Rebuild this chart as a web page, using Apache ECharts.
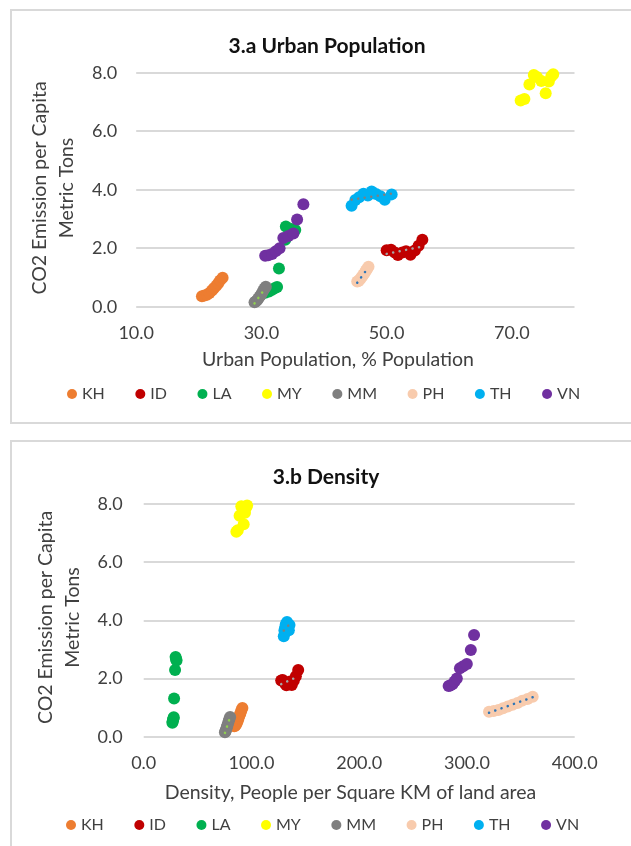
<!DOCTYPE html>
<html><head><meta charset="utf-8">
<script src="https://cdn.jsdelivr.net/npm/echarts@6/dist/echarts.min.js"></script>
<style>html,body{margin:0;padding:0;background:#fff}#c{width:631px;height:846px}</style>
</head><body><div id="c"></div>
<script>
const countries = ['KH','ID','LA','MY','MM','PH','TH','VN'];
const colors = ['#ED7D31','#C00000','#00B050','#FFFF00','#7F7F7F','#F8CBAD','#00B0F0','#7030A0'];

// CO2 emission per capita, metric tons
const co2KH = [0.36,0.38,0.41,0.47,0.55,0.63,0.72,0.80,0.90,0.99];
const co2ID = [1.93,1.95,1.85,1.77,1.85,1.90,1.78,1.92,2.08,2.29];
const co2LA = [0.48,0.52,0.58,0.63,0.67,1.31,2.29,2.74,2.66,2.62];
const co2MY = [7.05,7.10,7.60,7.92,7.85,7.72,7.30,7.70,7.88,7.95];
const co2MM = [0.15,0.18,0.22,0.28,0.34,0.40,0.47,0.55,0.62,0.68];
const co2PH = [0.86,0.88,0.92,0.98,1.04,1.10,1.16,1.24,1.30,1.37];
const co2TH = [3.45,3.65,3.74,3.86,3.80,3.94,3.85,3.78,3.66,3.84];
const co2VN = [1.74,1.76,1.80,1.90,2.00,2.35,2.42,2.50,2.98,3.50];

// Urban population, % of population
const urbanKH = [20.5,20.9,21.3,21.7,22.1,22.4,22.8,23.1,23.4,23.8];
const urbanID = [50.0,50.7,51.3,51.8,52.5,53.1,53.8,54.5,55.1,55.7];
const urbanLA = [30.6,31.2,31.7,32.1,32.5,32.8,33.8,33.9,34.8,35.4];
const urbanMY = [71.4,72.0,72.8,73.5,74.0,74.7,75.4,75.9,76.3,76.6];
const urbanMM = [28.9,29.1,29.3,29.5,29.7,29.9,30.1,30.3,30.5,30.7];
const urbanPH = [45.3,45.5,45.7,45.9,46.1,46.3,46.5,46.7,46.9,47.1];
const urbanTH = [44.4,45.0,45.6,46.3,47.0,47.6,48.3,49.0,49.7,50.8];
const urbanVN = [30.6,31.1,31.7,32.3,32.9,33.5,34.3,35.1,35.7,36.7];

// Density, people per square km of land area
const densityKH = [84.0,84.9,85.6,86.5,87.3,88.0,88.8,89.7,90.6,91.6];
const densityID = [127.6,129.0,130.9,132.4,134.1,135.9,137.4,139.3,141.2,143.4];
const densityLA = [26.6,26.9,27.3,27.6,27.9,28.2,29.1,29.6,30.1,30.5];
const densityMY = [86.0,87.3,89.0,90.6,91.5,92.3,92.8,94.0,95.0,96.0];
const densityMM = [75.4,75.8,76.3,76.8,77.3,77.8,78.4,79.0,79.6,80.2];
const densityPH = [320.5,324.8,329.2,333.5,337.9,342.3,346.8,351.4,356.2,361.0];
const densityTH = [130.0,130.6,131.2,131.8,132.4,133.0,133.6,134.2,134.7,135.3];
const densityVN = [283.0,284.5,286.5,288.5,290.6,293.5,296.5,299.9,303.6,306.6];

const co2 = [co2KH,co2ID,co2LA,co2MY,co2MM,co2PH,co2TH,co2VN];
const urban = [urbanKH,urbanID,urbanLA,urbanMY,urbanMM,urbanPH,urbanTH,urbanVN];
const density = [densityKH,densityID,densityLA,densityMY,densityMM,densityPH,densityTH,densityVN];

// linear trendlines (dotted) shown for these series
const trendCountries = ['ID','MM','PH','TH'];
const trendColors = {ID:'#A6A6A6', MM:'#8FD14F', PH:'#2E75B6', TH:'#7F7F7F'};

function trend(xs, ys){
  const n = xs.length;
  const mx = xs.reduce((a,b)=>a+b,0)/n, my = ys.reduce((a,b)=>a+b,0)/n;
  let sxy=0, sxx=0;
  for(let i=0;i<n;i++){ sxy+=(xs[i]-mx)*(ys[i]-my); sxx+=(xs[i]-mx)*(xs[i]-mx); }
  const b = sxy/sxx, a = my-b*mx;
  const x0 = Math.min(...xs), x1 = Math.max(...xs);
  return [[x0,a+b*x0],[x1,a+b*x1]];
}

const FONT = 'Lato';
const TXT = '#404040';
const series = [];
[urban, density].forEach((xsets, g) => {
  countries.forEach((c,i) => {
    series.push({
      name:c, type:'scatter', xAxisIndex:g, yAxisIndex:g, symbolSize:12,
      itemStyle:{color:colors[i], opacity:1},
      data: xsets[i].map((x,k)=>[x, co2[i][k]])
    });
  });
  trendCountries.forEach(c => {
    const i = countries.indexOf(c);
    series.push({
      name:c+' trend', type:'line', xAxisIndex:g, yAxisIndex:g, silent:true,
      showSymbol:false, symbol:'none', z:5,
      lineStyle:{color:trendColors[c], width:2.5, type:[0.1,6.5], cap:'round'},
      data: trend(xsets[i], co2[i])
    });
  });
});

const yAxisCommon = {
  type:'value', min:0, max:8, interval:2,
  axisLine:{show:false}, axisTick:{show:false},
  splitLine:{show:true, lineStyle:{color:'#D9D9D9', width:2}},
  axisLabel:{fontFamily:FONT, fontSize:18, color:TXT, formatter:v=>v.toFixed(1)}
};
const xAxisCommon = {
  type:'value', axisLine:{show:false}, axisTick:{show:false}, splitLine:{show:false}
};
const legendCommon = {
  data: countries, icon:'circle', itemWidth:10, itemHeight:10, itemGap:30.5,
  textStyle:{fontFamily:FONT, fontSize:16, color:TXT}, selectedMode:false
};

function txt(x,y,text,opt){
  return Object.assign({type:'text', x:x, y:y, silent:true,
    style:Object.assign({text:text, fontFamily:FONT, fontSize:19.5, fill:TXT, align:'center', verticalAlign:'middle'}, opt||{})});
}
function vtxt(x,y,text){
  const t = txt(x,y,text);
  t.rotation = Math.PI/2;
  return t;
}

const option = {
  animation:false,
  backgroundColor:'#ffffff',
  grid:[
    {left:136.2, top:72.7, width:438.3, height:234},
    {left:143.7, top:504, width:431, height:232.7}
  ],
  xAxis:[
    Object.assign({}, xAxisCommon, {gridIndex:0, min:10, max:80, interval:20,
      axisLabel:{fontFamily:FONT, fontSize:18, color:TXT, margin:17, showMaxLabel:false, formatter:v=>v.toFixed(1)}}),
    Object.assign({}, xAxisCommon, {gridIndex:1, min:0, max:400, interval:100,
      axisLabel:{fontFamily:FONT, fontSize:18, color:TXT, margin:17, formatter:v=>v.toFixed(1)}})
  ],
  yAxis:[
    Object.assign({}, yAxisCommon, {gridIndex:0, axisLabel:Object.assign({}, yAxisCommon.axisLabel, {margin:19})}),
    Object.assign({}, yAxisCommon, {gridIndex:1, axisLabel:Object.assign({}, yAxisCommon.axisLabel, {margin:21})})
  ],
  legend:[
    Object.assign({}, legendCommon, {left:62, top:381}),
    Object.assign({}, legendCommon, {left:61, top:812})
  ],
  graphic:[
    {type:'rect', silent:true, shape:{x:11, y:10, width:640, height:413}, style:{fill:'none', stroke:'#D9D9D9', lineWidth:2}},
    {type:'rect', silent:true, shape:{x:11, y:441, width:640, height:430}, style:{fill:'none', stroke:'#D9D9D9', lineWidth:2}},
    txt(327, 46.7, '3.a Urban Population', {fontWeight:'bold', fontSize:21, fill:'#111111'}),
    txt(326, 477.7, '3.b Density', {fontWeight:'bold', fontSize:21, fill:'#111111'}),
    txt(338, 360, 'Urban Population, % Population'),
    txt(350.5, 793, 'Density, People per Square KM of land area'),
    vtxt(40, 188, 'CO2 Emission per Capita'),
    vtxt(66.4, 188, 'Metric Tons'),
    vtxt(46, 617.5, 'CO2 Emission per Capita'),
    vtxt(72.4, 617.5, 'Metric Tons')
  ],
  series: series
};
const chart = echarts.init(document.getElementById('c'), null, {renderer:'canvas'});
chart.setOption(option);
</script></body></html>
